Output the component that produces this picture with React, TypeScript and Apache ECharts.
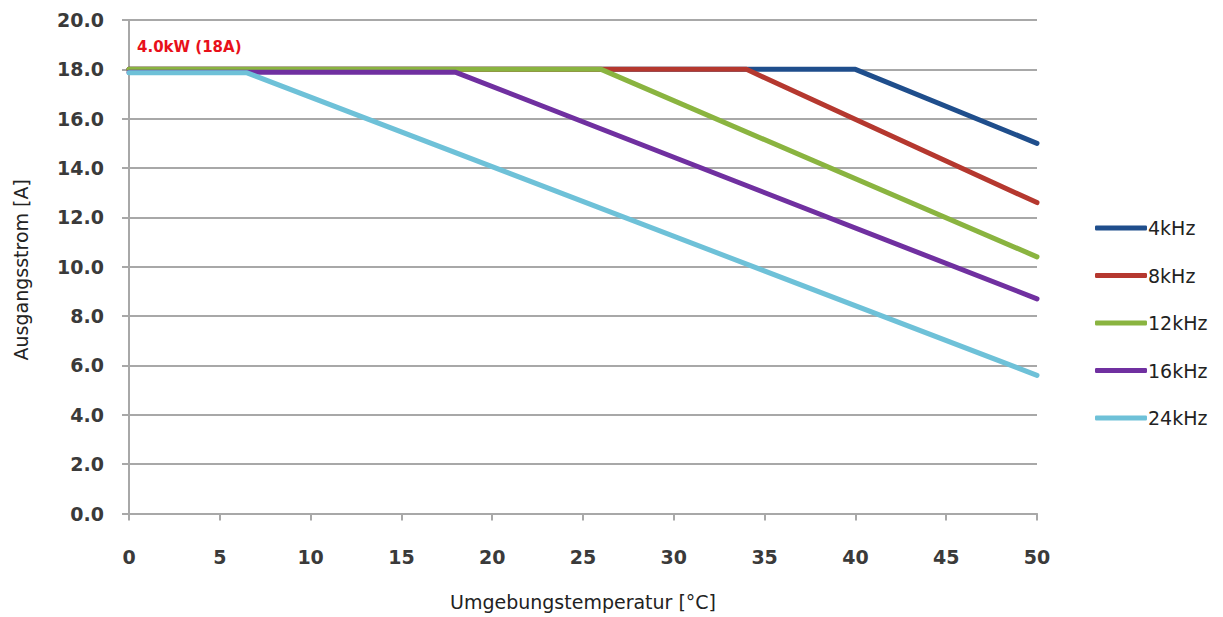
import React, { useEffect, useRef } from "react";
import * as echarts from "echarts";

const seriesNames = ["4kHz", "8kHz", "12kHz", "16kHz", "24kHz"];
const seriesColors = ["#1F4E8C", "#B5382F", "#8AB440", "#7030A0", "#6EC1D8"];
const data4k: [number, number][] = [[0, 18], [40, 18], [50, 15]];
const data8k: [number, number][] = [[0, 18], [34, 18], [50, 12.6]];
const data12k: [number, number][] = [[0, 18], [26, 18], [50, 10.4]];
const data16k: [number, number][] = [[0, 17.88], [18, 17.88], [50, 8.7]];
const data24k: [number, number][] = [[0, 17.86], [6.5, 17.86], [50, 5.6]];
const seriesData = [data4k, data8k, data12k, data16k, data24k];
const xTitle = "Umgebungstemperatur [°C]";
const yTitle = "Ausgangsstrom [A]";
const annotation = "4.0kW (18A)";

const FONT = "DejaVu Sans";

export default function App() {
  const ref = useRef<HTMLDivElement>(null);
  useEffect(() => {
    document.body.style.margin = "0";
    const chart = echarts.init(ref.current!, null, { renderer: "svg" });
    const gridColor = "#A8A8A8";
    chart.setOption({
      animation: false,
      backgroundColor: "#ffffff",
      grid: { left: 129, right: 186, top: 20, bottom: 103.5, containLabel: false },
      legend: {
        orient: "vertical",
        left: 1090,
        top: 213,
        itemWidth: 52,
        itemHeight: 5,
        itemGap: 27.5,
        icon: "roundRect",
        textStyle: { fontFamily: FONT, fontSize: 19, color: "#222", lineHeight: 20, padding: [0, 0, 0, -4] },
        data: seriesNames,
      },
      xAxis: {
        type: "value",
        min: 0,
        max: 50,
        interval: 5,
        name: xTitle,
        nameLocation: "middle",
        nameGap: 79,
        nameTextStyle: { fontFamily: FONT, fontSize: 19, color: "#222" },
        axisLine: { show: true, lineStyle: { color: gridColor, width: 2 } },
        axisTick: { show: true, length: 7, lineStyle: { color: gridColor, width: 2 } },
        axisLabel: { margin: 34, fontFamily: FONT, fontWeight: "bold", fontSize: 19, color: "#3a3a3a" },
        splitLine: { show: false },
      },
      yAxis: {
        type: "value",
        min: 0,
        max: 20,
        interval: 2,
        name: yTitle,
        nameLocation: "middle",
        nameGap: 99,
        nameTextStyle: { fontFamily: FONT, fontSize: 19, color: "#222", padding: [0, 6, 0, 0] },
        axisLine: { show: true, lineStyle: { color: gridColor, width: 2 } },
        axisTick: { show: true, length: 7, lineStyle: { color: gridColor, width: 2 } },
        axisLabel: {
          margin: 25,
          fontFamily: FONT,
          fontWeight: "bold",
          fontSize: 19,
          color: "#3a3a3a",
          formatter: (v: number) => v.toFixed(1),
        },
        splitLine: { show: true, lineStyle: { color: gridColor, width: 2 } },
      },
      graphic: [
        {
          type: "text",
          left: 137,
          top: 39,
          style: { text: annotation, fill: "#E8101A", font: `bold 15px ${FONT}` },
        },
      ],
      series: seriesNames.map((name, i) => ({
        name,
        type: "line",
        data: seriesData[i],
        symbol: "none",
        color: seriesColors[i],
        lineStyle: { width: 5, color: seriesColors[i], cap: "round", join: "round" },
        z: 2 + i,
      })),
    });
    return () => chart.dispose();
  }, []);
  return <div ref={ref} style={{ width: 1223, height: 617 }} />;
}
